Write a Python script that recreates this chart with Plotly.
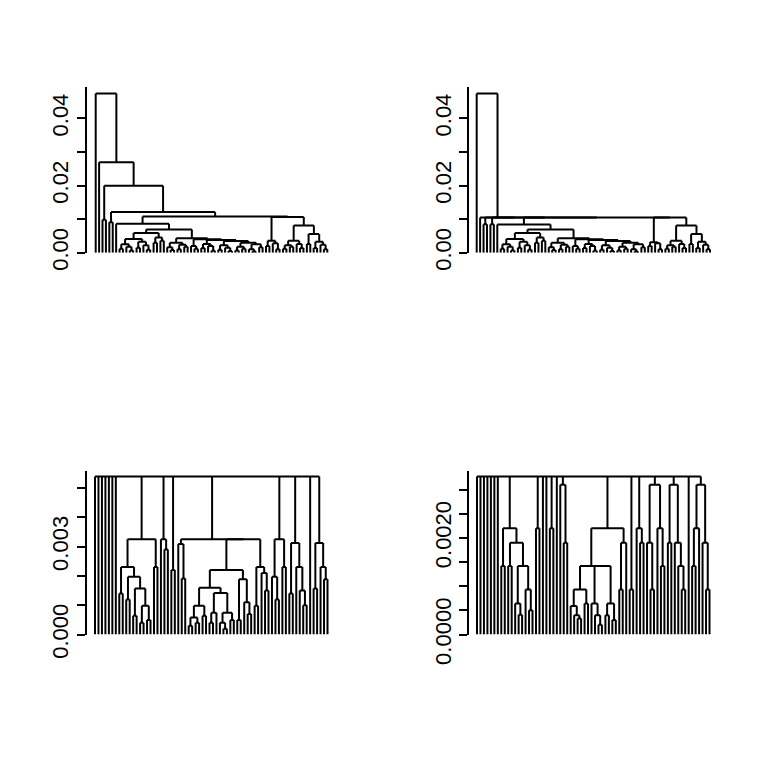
import plotly.graph_objects as go

# dendrograms written as nested lists: "[h child child ...]" where h is the merge
# height (in units of the panel's HEIGHT_UNIT) and "o" is a leaf

# top-left (68 leaves, heights in 1e-4)
TL_H = "[59 [41 [25 [12 o o] [18 o [7 o o]]] [33 [15 o o] [22 o [9 o o]]]] [45 [30 o o] [36 o o]]]"
TL_I = ("[43 [30 [16 o [8 o o]] [24 [10 o o] [18 o o]]] [40 [20 o [12 o o]] [38 [26 [14 o o] [20 o [6 o o]]] "
        "[35 [22 [9 o o] [15 o [5 o o]]] [30 [18 [7 o o] [12 o o]] [25 [10 o [4 o o]] [16 o o]]]]]]]")
TL_F = "[86 o [69 " + TL_H + " " + TL_I + "]]"
TL_P = ("[106 [36 [20 o o] [28 o [10 o o]]] [81 [36 [22 [12 o o] [18 o o]] [26 o [14 o o]]] "
        "[56 [26 o o] [33 [14 o o] [24 o [10 o o]]]]]]")
TREE_TL = "[474 o [269 o [199 [98 o o] [121 [91 o o] [108 " + TL_F + " " + TL_P + "]]]]]"

# top-right: same ordering, flatter upper merges
TR_F = "[84 o [69 " + TL_H + " " + TL_I + "]]"
TR_P = ("[105 [31 [20 o o] [28 o [10 o o]]] [81 [36 [22 [12 o o] [18 o o]] [26 o [14 o o]]] "
        "[56 [26 o o] [33 [14 o o] [24 o [10 o o]]]]]]")
TREE_TR = "[474 o [105 o [105 [85 o o] [105 [85 o o] [105 " + TR_F + " " + TR_P + "]]]]]"

# bottom-left (heights in 1e-5)
BL_G = "[325 [231 [140 o o] [197 [120 o o] [157 [64 o o] [98 [40 o o] [50 o o]]]]] [231 o o]]"
BL_J = ("[325 [309 o [191 o o]] [325 [220 [160 [98 [58 [30 o o] [40 o o]] [64 o o]] "
        "[142 [74 [40 o o] o] [74 [40 o [20 o o]] [50 o o]]]] [189 [50 o o] [110 o [70 o o]]]] "
        "[231 [98 o o] [210 o [150 o o]]]]]")
BL_K = "[325 [197 o [120 o o]] [231 o o]]"
BL_L = "[313 [140 o o] [231 o [150 o [100 o o]]]]"
BL_M = "[313 [157 o o] [231 o [189 o o]]]"
TREE_BL = ("[540 o o o o o o o " + BL_G + " [325 o [290 o o]] [220 o o] " + BL_J + " " +
           BL_K + " " + BL_L + " o " + BL_M + "]")

# bottom-right (heights in 1e-5)
BR_A = "[220 [142 o o] [190 [142 o o] [142 [64 o [41 o o]] [93 o [50 o o]]]]]"
BR_B = ("[220 [142 [93 [59 o [40 o [33 o o]]] [64 o o]] [142 [64 o [40 o [20 o o]]] "
        "[64 [40 o o] [30 o o]]]] [190 [93 o o] o]]")
BR_K = "[310 [190 o [93 o o]] [220 o [142 o o]]]"
BR_L = "[310 [190 o o] [190 o [142 o [93 o o]]]]"
BR_M = "[310 [220 [142 o o] o] [190 o [93 o o]]]"
TREE_BR = ("[327 o o o o o o o " + BR_A + " [220 o o] o o [220 o o] o [310 o [190 o o]] " + BR_B +
           " [93 o o] [220 o [190 o o]] " + BR_K + " " + BR_L + " o " + BR_M + "]")

HEIGHT_UNITS = [1e-4, 1e-4, 1e-5, 1e-5]

TICKS_TOP = [0.00, 0.01, 0.02, 0.03, 0.04]
TICKTEXT_TOP = ["0.00", "", "0.02", "", "0.04"]
TICKS_BL = [0.000, 0.001, 0.002, 0.003, 0.004, 0.005]
TICKTEXT_BL = ["0.000", "", "", "0.003", "", ""]
TICKS_BR = [0.0000, 0.0005, 0.0010, 0.0015, 0.0020, 0.0025, 0.0030]
TICKTEXT_BR = ["0.0000", "", "", "", "0.0020", "", ""]


def parse(text):
    tokens = text.replace("[", " [ ").replace("]", " ] ").split()
    pos = 0

    def node():
        nonlocal pos
        tok = tokens[pos]
        pos += 1
        if tok == "o":
            return None
        h = float(tokens[pos])
        pos += 1
        kids = []
        while tokens[pos] != "]":
            kids.append(node())
        pos += 1
        return (h, kids)

    return node()


def segments(tree, unit):
    xs, ys = [], []
    counter = [0]

    def walk(n):
        if n is None:
            x = counter[0]
            counter[0] += 1
            return x, 0.0
        h, kids = n
        h *= unit
        pts = [walk(k) for k in kids]
        for cx, cy in pts:
            xs.extend([cx, cx, None])
            ys.extend([cy, h, None])
        xs.extend([pts[0][0], pts[-1][0], None])
        ys.extend([h, h, None])
        return (pts[0][0] + pts[-1][0]) / 2, h

    walk(tree)
    return xs, ys, counter[0]


W, H = 763, 765
# the photographed page comes out squeezed vertically by about this much
V_FIX = 1 / 0.958
# pixel geometry of the four panels: axis x, first leaf, last leaf, y of zero, y of axis top, px per unit
PANELS = [
    dict(ax=87.0, x0=95.7, x1=327.3, y0=252.0, ytop=86.7, ppu=3350.0),
    dict(ax=469.3, x0=476.7, x1=710.0, y0=252.0, ytop=86.7, ppu=3350.0),
    dict(ax=86.7, x0=95.0, x1=327.5, y0=632.7, ytop=470.0, ppu=29200.0),
    dict(ax=469.3, x0=477.0, x1=709.5, y0=632.7, ytop=470.0, ppu=48200.0),
]
TREES = [TREE_TL, TREE_TR, TREE_BL, TREE_BR]
TICKS = [(TICKS_TOP, TICKTEXT_TOP), (TICKS_TOP, TICKTEXT_TOP),
         (TICKS_BL, TICKTEXT_BL), (TICKS_BR, TICKTEXT_BR)]

fig = go.Figure()
layout = {}
for i, (tree_txt, p, unit, (tv, tt)) in enumerate(zip(TREES, PANELS, HEIGHT_UNITS, TICKS)):
    xs, ys, n = segments(parse(tree_txt), unit)
    sfx = "" if i == 0 else str(i + 1)
    fig.add_trace(go.Scatter(
        x=xs, y=ys, mode="lines",
        line=dict(color="black", width=2),
        xaxis="x" + sfx, yaxis="y" + sfx,
        hoverinfo="skip", showlegend=False,
    ))
    step = (p["x1"] - p["x0"]) / (n - 1)
    right = p["x1"] + (p["x0"] - p["ax"])
    layout["xaxis" + sfx] = dict(
        domain=[p["ax"] / W, right / W],
        range=[(p["ax"] - p["x0"]) / step, (right - p["x0"]) / step],
        visible=False, anchor="y" + sfx,
    )
    top = (p["y0"] - p["ytop"]) / p["ppu"]
    layout["yaxis" + sfx] = dict(
        domain=[1 - p["y0"] * V_FIX / H, 1 - p["ytop"] * V_FIX / H],
        range=[0, top],
        anchor="x" + sfx,
        showline=True, linecolor="black", linewidth=2,
        ticks="outside", ticklen=8, tickwidth=2, tickcolor="black",
        tickvals=tv, ticktext=tt, tickangle=-90,
        tickfont=dict(family="Liberation Sans, Arial, sans-serif", size=22, color="black"),
        showgrid=False, zeroline=False,
    )

fig.update_layout(
    width=W, height=H,
    margin=dict(l=0, r=0, t=0, b=0),
    paper_bgcolor="white", plot_bgcolor="white",
    **layout,
)
fig.write_html("out.html", config={"displayModeBar": False},
               post_script="document.body.style.margin='0';document.body.style.overflow='hidden';")
